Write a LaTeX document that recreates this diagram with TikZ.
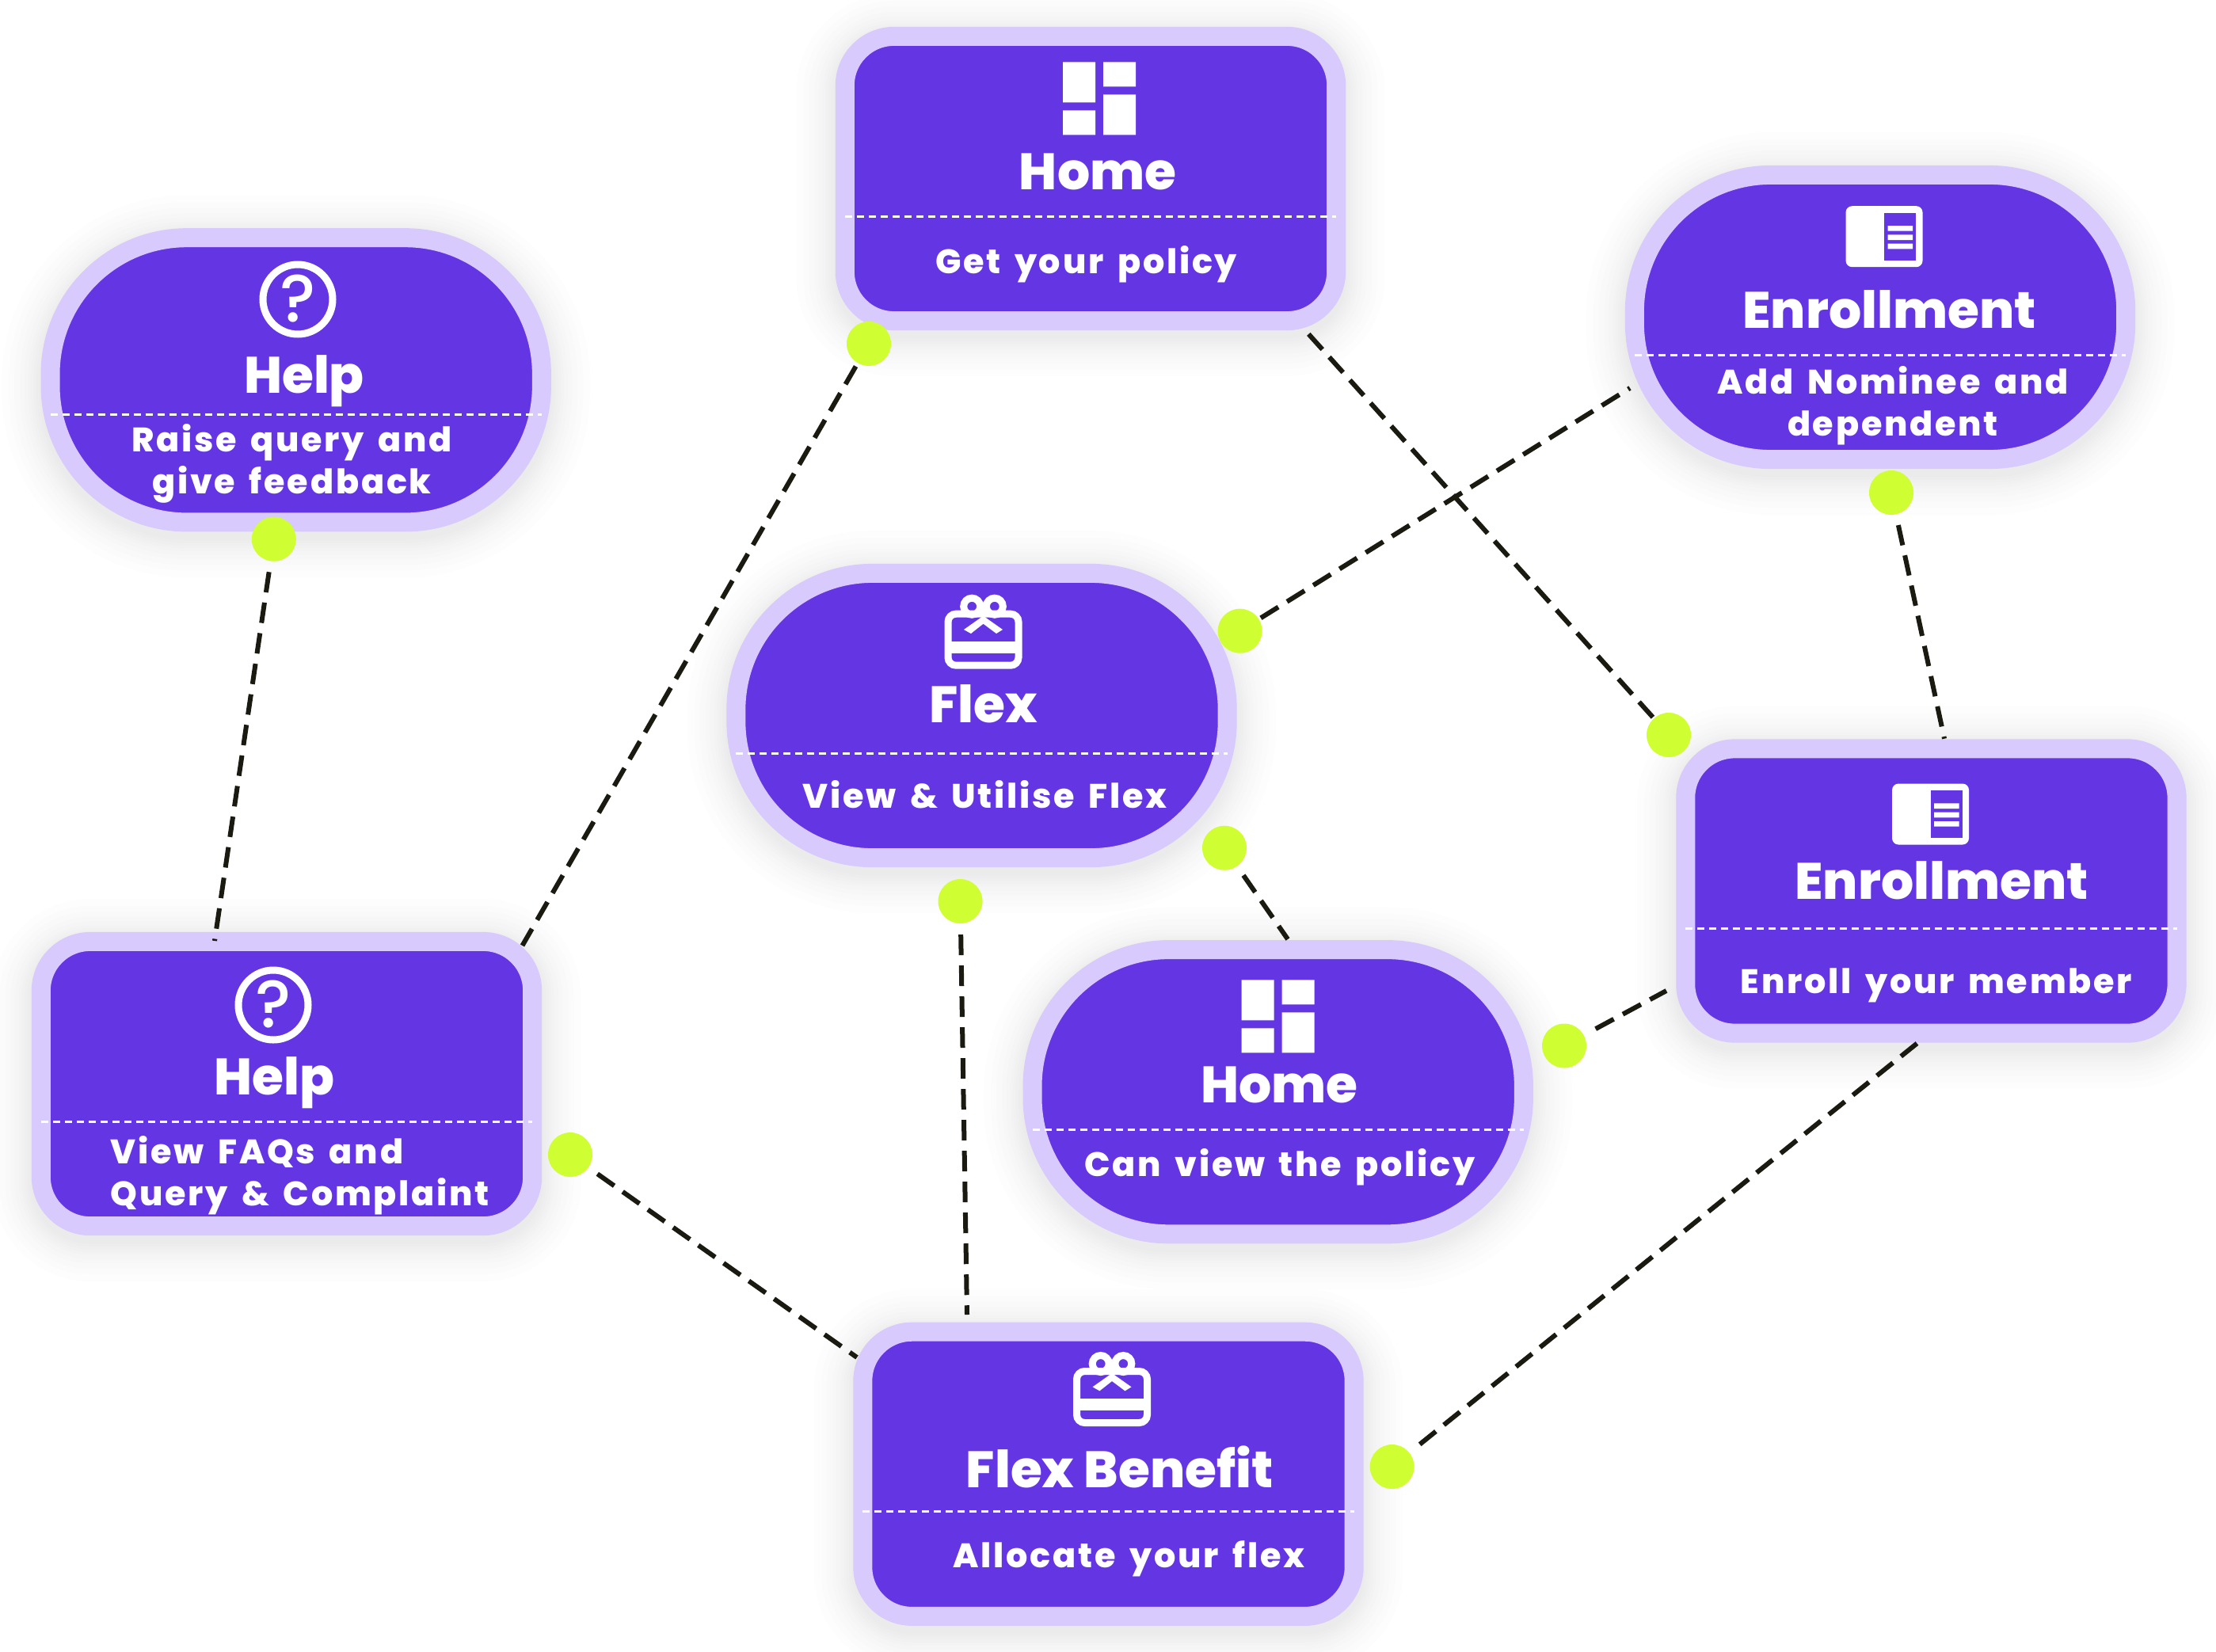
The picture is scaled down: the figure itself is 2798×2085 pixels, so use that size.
\documentclass[tikz,border=0pt]{standalone}
\usepackage{fontspec}
\setmainfont{Poppins}[BoldFont={Poppins ExtraBold}]
\newfontfamily\subfont{Poppins}[BoldFont={Poppins ExtraBold},LetterSpace=6.5,WordSpace=1.6]
\newfontfamily\markfont{Poppins Medium}
\usetikzlibrary{positioning}
\definecolor{cardviolet}{HTML}{6435E3}
\definecolor{cardhalo}{HTML}{D8CAFD}
\definecolor{dotlime}{HTML}{CFFF33}
\definecolor{linkdark}{HTML}{1A1A10}
\tikzset{
  cardbox/.style={draw=cardhalo,fill=cardviolet,line width=0.24cm,minimum width=6.2cm,minimum height=3.59cm,inner sep=0,outer sep=0,rounded corners=0.62cm},
  pillbox/.style={cardbox,rounded corners=1.72cm},
  dotmark/.style={circle,fill=dotlime,minimum size=0.56cm,inner sep=0,outer sep=0},
  link/.style={draw=linkdark,line width=0.06cm,dash pattern=on 0.26cm off 0.13cm},
  splitline/.style={draw=white,line width=0.03cm,dash pattern=on 0.09cm off 0.06cm},
  cardtitle/.style={text=white,inner sep=0,anchor=base,font=\fontsize{18.4pt}{20pt}\selectfont\bfseries},
  cardtext/.style={text=white,inner sep=0,anchor=base,align=center,font=\fontsize{12.2pt}{15pt}\subfont\bfseries},
  homeicon/.pic={
    \fill[white] (-46,-46) rectangle (-5,5) (-46,15) rectangle (-5,46)
      (5,-46) rectangle (46,-15) (5,-5) rectangle (46,46);
  },
  docicon/.pic={
    \fill[white,rounded corners=0.08cm] (-48.5,-38.5) rectangle (48.5,38.5);
    \fill[cardviolet] (0,-30) rectangle (40,30);
    \fill[white] (4.5,-13.7) rectangle (36,-7) (4.5,-2.3) rectangle (36,4.3) (4.5,9) rectangle (36,15.7);
  },
  helpicon/.pic={
    \draw[white,line width=0.09cm] (0,0) circle (44);
    \node[text=white,inner sep=0,font=\fontsize{24pt}{24pt}\markfont] (-mark) at (0,-1) {?};
  },
  gifticon/.pic={
    \draw[white,line width=0.09cm] (-14.3,-42) circle (10.5) (14.3,-42) circle (10.5);
    \draw[white,line width=0.09cm,rounded corners=0.1cm] (-44.5,-32.5) rectangle (44.5,32.5);
    \fill[white] (-44,2.3) rectangle (44,17.3);
    \fill[white] (0,-30) -- (24.5,-12.7) -- (16.5,-7.7) -- (0,-20) -- (-15.6,-7.7) -- (-24.5,-12.7) -- cycle;
  }
}
\begin{document}
\begin{tikzpicture}[x=0.01cm,y=-0.01cm]
  \useasboundingbox (0,0) rectangle (2798,2085);

  % soft shadows
  \foreach \cx/\cy/\cr in {1377/225.5/.62,2374/400.5/1.72,373.7/479.8/1.72,1239.5/903.5/1.72,362/1368.5/.62,2438.4/1125/.62,1613.7/1378.7/1.72,1399.5/1861.3/.62}
    \foreach \w in {8,10,12,14,16,19,22,26,30,35}
      \draw[black,opacity=.007,line width=\w pt,rounded corners=\cr cm] (\cx-310,\cy-172) rectangle (\cx+310,\cy+188);

  % cards
  \node[cardbox] at (1377,225.5) (home1) {};
  \node[pillbox] at (2374,400.5) (enroll1) {};
  \node[pillbox] at (373.7,479.8) (help1) {};
  \node[pillbox] at (1239.5,903.5) (flex1) {};
  \node[cardbox] at (362,1368.5) (help2) {};
  \node[cardbox] at (2438.4,1125) (enroll2) {};
  \node[pillbox] at (1613.7,1378.7) (home2) {};
  \node[cardbox] at (1399.5,1861.3) (flex2) {};

  \foreach \card/\drop in {home1/0.475,enroll1/0.475,help1/0.44,flex1/0.475,help2/0.475,enroll2/0.475,home2/0.475,flex2/0.475}
    \draw[splitline] ([yshift=-\drop cm]\card.west) -- ([yshift=-\drop cm]\card.east);

  % icons
  \pic at (1388,124.3) {homeicon};
  \pic at (2379,298.7) {docicon};
  \pic (helpa) at (376,378) {helpicon};
  \pic at (1241.5,807.7) {gifticon};
  \pic (helpb) at (345,1269) {helpicon};
  \pic at (2437.5,1028) {docicon};
  \pic at (1613.5,1283.3) {homeicon};
  \pic at (1404,1764) {gifticon};

  % texts
  \node[cardtitle] at (1386,239) (home1t) {Home};
  \node[cardtext] at (1371.5,345) (home1s) {Get your policy};
  \node[cardtitle] at (2385.5,414) (enroll1t) {Enrollment};
  \node[cardtext] at (2390,550.7) (enroll1s) {Add Nominee and\\dependent};
  \node[cardtitle] at (384,496) (help1t) {Help};
  \node[cardtext] at (368.5,623) (help1s) {Raise query and\\give feedback};
  \node[cardtitle] at (1242,912.7) (flex1t) {Flex};
  \node[cardtext] at (1243.7,1020) (flex1s) {View \& Utilise Flex};
  \node[cardtitle] at (346.5,1382.7) (help2t) {Help};
  \node[cardtext,align=left,anchor=base west] at (139,1522.7) (help2s) {View FAQs and\\Query \& Complaint};
  \node[cardtitle] at (2451.6,1135) (enroll2t) {Enrollment};
  \node[cardtext] at (2444.9,1254) (enroll2s) {Enroll your member};
  \node[cardtitle] at (1615.3,1392.7) (home2t) {Home};
  \node[cardtext] at (1616,1485.3) (home2s) {Can view the policy};
  \node[cardtitle] at (1413.8,1878.7) (flex2t) {Flex Benefit};
  \node[cardtext] at (1425.6,1979.3) (flex2s) {Allocate your flex};

  % dots
  \node[dotmark] at (1097,434) (homedot) {};
  \node[dotmark] at (2388,622) (enrolldot) {};
  \node[dotmark] at (345.8,680.7) (helpdot) {};
  \node[dotmark] at (1565.6,796.7) (flexdotb) {};
  \node[dotmark] at (2107,928) (memberdot) {};
  \node[dotmark] at (1546,1070.7) (flexdota) {};
  \node[dotmark] at (1212.5,1138) (flexdotc) {};
  \node[dotmark] at (720,1458) (faqdot) {};
  \node[dotmark] at (1975,1320.5) (viewdot) {};
  \node[dotmark] at (1757.6,1852) (allocdot) {};

  % connector ends on the cards
  \coordinate (help2top) at (271,1188);
  \coordinate (help2corner) at (659.5,1194);
  \coordinate (home1corner) at (1647,416);
  \coordinate (enroll1side) at (2058,490);
  \coordinate (enroll2top) at (2455,932.7);
  \coordinate (home2top) at (1626,1186);
  \coordinate (flex2top) at (1221,1660);
  \coordinate (enroll2side) at (2104,1251);
  \coordinate (enroll2low) at (2426,1313);
  \coordinate (flex2side) at (1082,1714);

  \draw[link,shorten <=0.14cm] (helpdot) -- (help2top);
  \draw[link,shorten <=0.05cm] (homedot) -- (help2corner);
  \draw[link,shorten <=0.02cm] (memberdot) -- (home1corner);
  \draw[link,shorten <=0.03cm] (flexdotb) -- (enroll1side);
  \draw[link,shorten <=0.14cm] (enrolldot) -- (enroll2top);
  \draw[link,shorten <=0.14cm] (flexdota) -- (home2top);
  \draw[link,shorten <=0.14cm] (flexdotc) -- (flex2top);
  \draw[link,shorten <=0.17cm] (viewdot) -- (enroll2side);
  \draw[link,shorten <=0.17cm] (allocdot) -- (enroll2low);
  \draw[link,shorten <=0.14cm] (faqdot) -- (flex2side);
\end{tikzpicture}
\end{document}
